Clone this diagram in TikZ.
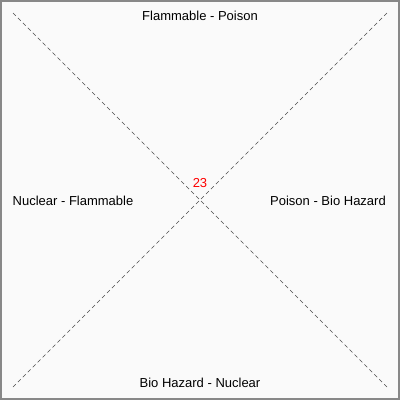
\documentclass[tikz,border=0pt]{standalone}
\usepackage{fontspec}
\setmainfont{Liberation Sans}
\usetikzlibrary{positioning}
\definecolor{panelbg}{HTML}{FAFAFA}
\definecolor{framegray}{HTML}{888888}

\begin{document}
\begin{tikzpicture}[x=1pt,y=-1pt]
	\tikzset{diag/.style={densely dashed, dash pattern=on 4pt off 3pt, draw=black!70, line width=0.6pt},
	         pair/.style={font=\fontsize{13}{15}\selectfont, text=black},
	         count/.style={font=\fontsize{13}{15}\selectfont, text=red}}
	% panel and frame
	\useasboundingbox (0,0) rectangle (400,400);
	\fill[panelbg] (0,0) rectangle (400,400);
	\draw[framegray, line width=2pt] (1,1) rectangle (399,399);
	% corners of the diagonals
	\coordinate (tl) at (13,13);
	\coordinate (tr) at (387,13);
	\coordinate (bl) at (13,387);
	\coordinate (br) at (387,387);
	\draw[diag] (tl) -- (br);
	\draw[diag] (tr) -- (bl);
	% labels
	\node[pair] (top) at (200,16) {Flammable - Poison};
	\node[pair] (left) at (73,201) {Nuclear - Flammable};
	\node[pair] (right) at (328,201) {Poison - Bio Hazard};
	\node[pair] (bottom) at (200,383) {Bio Hazard - Nuclear};
	\node[count] (mid) at (200,183) {23};
\end{tikzpicture}
\end{document}
